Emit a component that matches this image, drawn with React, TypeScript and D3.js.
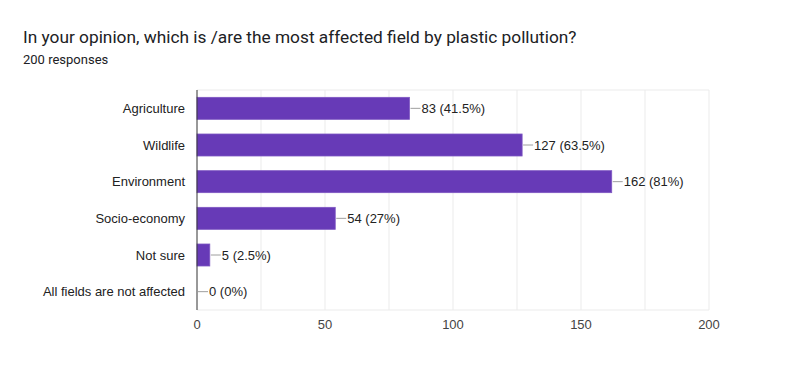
import React from "react";
import * as d3 from "d3";

const categories = ["Agriculture", "Wildlife", "Environment", "Socio-economy", "Not sure", "All fields are not affected"];
const counts = [83, 127, 162, 54, 5, 0];
const percents = ["41.5%", "63.5%", "81%", "27%", "2.5%", "0%"];
const xTicks = [0, 50, 100, 150, 200];
const gridTicks = [25, 50, 75, 100, 125, 150, 175, 200];
const title = "In your opinion, which is /are the most affected field by plastic pollution?";
const subtitle = "200 responses";

export default function App() {
  const W = 788, H = 375;
  const left = 197, right = 709, top = 90, bottom = 310;
  const x = d3.scaleLinear().domain([0, 200]).range([left, right]);
  const y = d3.scaleBand().domain(categories).range([top, bottom]).paddingInner(0.4).paddingOuter(0.2);
  const font = "Arial, 'Liberation Sans', sans-serif";
  return (
    <svg width={W} height={H} style={{ position: "absolute", left: 0, top: 0, background: "#fff" }}>
      <rect x={0} y={0} width={W} height={H} fill="#fff" />
      <text x={23} y={43} fontFamily="Roboto, sans-serif" fontSize={17.3} fill="#202124">{title}</text>
      <text x={23} y={64} fontFamily="Roboto, sans-serif" fontSize={13} fill="#202124">{subtitle}</text>
      {gridTicks.map((t) => (
        <line key={t} x1={x(t)} x2={x(t)} y1={top} y2={bottom} stroke="#ebebeb" strokeWidth={1} />
      ))}
      <line x1={left} x2={right} y1={top} y2={top} stroke="#ebebeb" />
      <line x1={left} x2={right} y1={bottom} y2={bottom} stroke="#ebebeb" />
      {categories.map((c, i) => {
        const yy = y(c)!;
        const bw = y.bandwidth();
        const xe = x(counts[i]);
        return (
          <g key={c}>
            {counts[i] > 0 && (
              <rect x={left} y={yy} width={xe - left} height={bw} fill="#673ab7" stroke="#7e57c2" strokeWidth={0.8} />
            )}
            <line x1={xe + 1} x2={xe + 11} y1={yy + bw / 2} y2={yy + bw / 2} stroke="#9e9e9e" strokeWidth={1} />
            <text x={xe + 12} y={yy + bw / 2} dy="0.35em" fontFamily={font} fontSize={13} fill="#222">
              {`${counts[i]} (${percents[i]})`}
            </text>
            <text x={185} y={yy + bw / 2} dy="0.35em" textAnchor="end" fontFamily={font} fontSize={13} fill="#222">
              {c}
            </text>
          </g>
        );
      })}
      <line x1={left} x2={left} y1={top} y2={bottom} stroke="#333" strokeWidth={1} />
      {xTicks.map((t) => (
        <text key={t} x={x(t)} y={329} textAnchor="middle" fontFamily={font} fontSize={13} fill="#444">{t}</text>
      ))}
    </svg>
  );
}
